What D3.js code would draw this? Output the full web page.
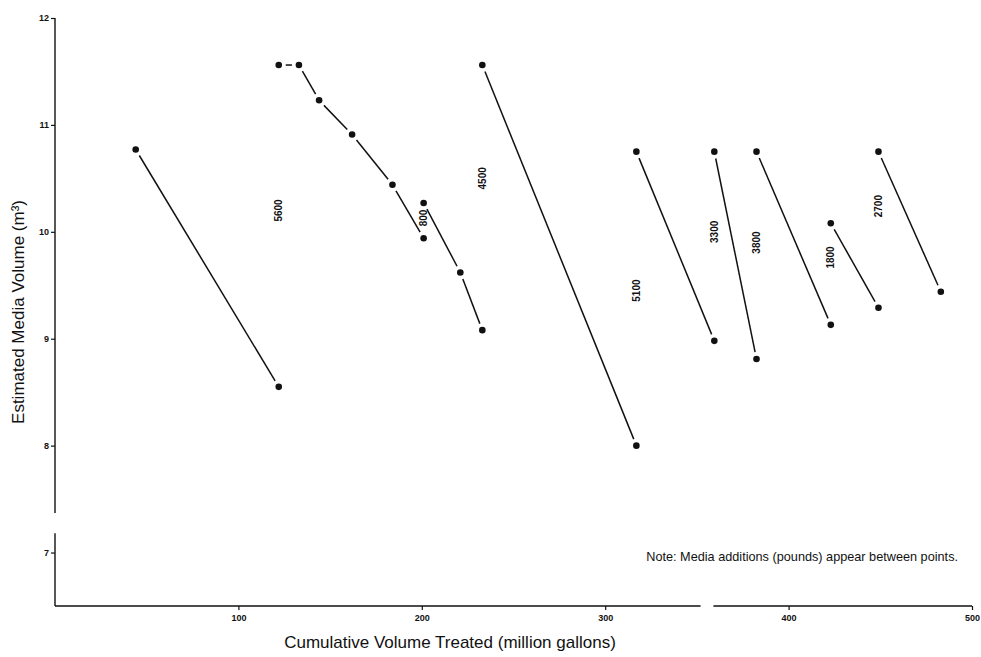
<!DOCTYPE html>
<html>
<head>
<meta charset="utf-8">
<script src="https://cdn.jsdelivr.net/npm/d3@7"></script>
<style>
  body { margin: 0; background: #fff; }
  svg { display: block; font-family: "Liberation Sans", Arial, sans-serif; }
  .tick text { font-size: 9px; font-weight: bold; fill: #111; }
  .tick line { stroke: #111; stroke-width: 1.2; }
</style>
</head>
<body>
<div id="chart"></div>
<script>
// Chart size
var svgWidth = 981;
var svgHeight = 657;

var margin = { top: 18, right: 9, bottom: 51, left: 55 };

// Each run is one stretch of media use (volume falls), runs are joined by media additions
var runX = [
    [44, 122],
    [122, 133, 144, 162, 184, 201],
    [201, 221, 233],
    [233, 317],
    [317, 359.5],
    [359.5, 382.5],
    [382.5, 423],
    [423, 449],
    [449, 483]
];
var runY = [
    [10.77, 8.55],
    [11.56, 11.56, 11.23, 10.91, 10.44, 9.94],
    [10.27, 9.62, 9.08],
    [11.56, 8.00],
    [10.75, 8.98],
    [10.75, 8.81],
    [10.75, 9.13],
    [10.08, 9.29],
    [10.75, 9.44]
];

// Media additions (pounds), written between the two points
var additions = ["5600", "800", "4500", "5100", "3300", "3800", "1800", "2700"];
var additionX = [122, 201, 233, 317, 359.5, 382.5, 423, 449];
var additionY = [10.2, 10.13, 10.5, 9.45, 10.0, 9.9, 9.76, 10.24];

var xTicks = [100, 200, 300, 400, 500];
var yTicks = [7, 8, 9, 10, 11, 12];

var svg = d3.select("#chart")
    .append("svg")
    .attr("width", svgWidth)
    .attr("height", svgHeight);

var xScale = d3.scaleLinear()
    .domain([0, 500])
    .range([margin.left, svgWidth - margin.right]);

var yScale = d3.scaleLinear()
    .domain([6.5, 12])
    .range([svgHeight - margin.bottom, margin.top]);

// axes (domain lines drawn by hand so the breaks can be shown)
var xAxis = svg.append("g")
    .attr("transform", "translate(0," + yScale(6.5) + ")")
    .call(d3.axisBottom(xScale).tickValues(xTicks).tickFormat(d3.format("d")).tickSize(4).tickPadding(5));
xAxis.select(".domain").remove();

var yAxis = svg.append("g")
    .attr("transform", "translate(" + xScale(0) + ",0)")
    .call(d3.axisLeft(yScale).tickValues(yTicks).tickFormat(d3.format("d")).tickSize(4).tickPadding(2));
yAxis.select(".domain").remove();

// x axis line with a break near 355
var xPieces = [[0, 352], [359, 500]];
xPieces.forEach(function (p) {
    svg.append("line")
        .attr("x1", xScale(p[0])).attr("x2", xScale(p[1]))
        .attr("y1", yScale(6.5)).attr("y2", yScale(6.5))
        .attr("stroke", "#111").attr("stroke-width", 1.4);
});

// y axis line with a break near 7.3
var yPieces = [[6.5, 7.18], [7.37, 12]];
yPieces.forEach(function (p) {
    svg.append("line")
        .attr("x1", xScale(0)).attr("x2", xScale(0))
        .attr("y1", yScale(p[0])).attr("y2", yScale(p[1]))
        .attr("stroke", "#111").attr("stroke-width", 1.4);
});

// line segments, stopped short of the dots
var gap = 7;
var segGroup = svg.append("g");
runX.forEach(function (xs, r) {
    var ys = runY[r];
    for (var i = 0; i < xs.length - 1; i++) {
        var x1 = xScale(xs[i]), y1 = yScale(ys[i]);
        var x2 = xScale(xs[i + 1]), y2 = yScale(ys[i + 1]);
        var len = Math.sqrt((x2 - x1) * (x2 - x1) + (y2 - y1) * (y2 - y1));
        var ux = (x2 - x1) / len, uy = (y2 - y1) / len;
        segGroup.append("line")
            .attr("x1", x1 + ux * gap).attr("y1", y1 + uy * gap)
            .attr("x2", x2 - ux * gap).attr("y2", y2 - uy * gap)
            .attr("stroke", "#111")
            .attr("stroke-width", 1.5);
    }
});

// dots
var points = [];
runX.forEach(function (xs, r) {
    xs.forEach(function (x, i) { points.push({ x: x, y: runY[r][i] }); });
});

svg.append("g")
    .selectAll("circle")
    .data(points)
    .enter()
    .append("circle")
    .attr("cx", function (d) { return xScale(d.x); })
    .attr("cy", function (d) { return yScale(d.y); })
    .attr("r", 3.3)
    .attr("fill", "#111");

// addition labels, rotated
svg.append("g")
    .selectAll("text")
    .data(additions)
    .enter()
    .append("text")
    .attr("transform", function (d, i) {
        return "translate(" + (xScale(additionX[i]) + 3.5) + "," + yScale(additionY[i]) + ") rotate(-90)";
    })
    .attr("text-anchor", "middle")
    .attr("font-size", "10px")
    .attr("font-weight", "bold")
    .attr("fill", "#111")
    .text(function (d) { return d; });

// axis titles
svg.append("text")
    .attr("x", 450)
    .attr("y", 648)
    .attr("text-anchor", "middle")
    .attr("font-size", "17px")
    .attr("fill", "#111")
    .text("Cumulative Volume Treated (million gallons)");

svg.append("text")
    .attr("transform", "translate(24," + 312 + ") rotate(-90)")
    .attr("text-anchor", "middle")
    .attr("font-size", "17px")
    .attr("fill", "#111")
    .text("Estimated Media Volume (m³)");

// note
svg.append("text")
    .attr("x", 958)
    .attr("y", 561)
    .attr("text-anchor", "end")
    .attr("font-size", "12.7px")
    .attr("fill", "#111")
    .text("Note: Media additions (pounds) appear between points.");
</script>
</body>
</html>
